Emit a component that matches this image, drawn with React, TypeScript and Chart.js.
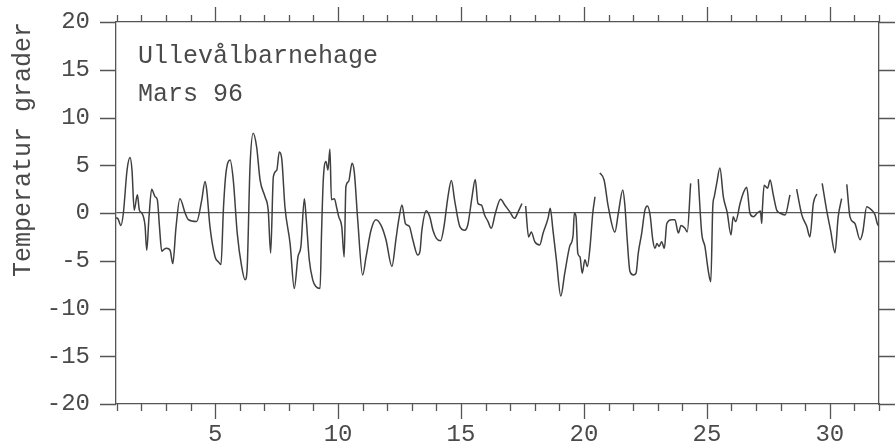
import { useEffect, useRef } from "react";
import { Chart, registerables } from "chart.js";

Chart.register(...registerables);

// ---- data ----
const days: number[] = [
  0.97, 1.05, 1.17, 1.27, 1.42, 1.54, 1.62, 1.71, 1.84, 1.92, 2.02, 2.15, 2.22, 2.31, 2.42, 2.56, 2.65, 2.74, 2.83, 2.92,
  3.03, 3.17, 3.28, 3.41, 3.57, 3.78, 3.91, 4.25, 4.46, 4.59, 4.66, 4.79, 5.0, 5.13, 5.24, 5.34, 5.44, 5.61, 5.74, 5.9,
  6.08, 6.22, 6.3, 6.42, 6.55, 6.69, 6.83, 7.03, 7.16, 7.26, 7.37, 7.51, 7.61, 7.71, 7.84, 8.05, 8.22, 8.37, 8.49, 8.63,
  8.7, 8.83, 8.97, 9.1, 9.27, 9.33, 9.4, 9.51, 9.59, 9.67, 9.73, 9.85, 9.95, 10.03, 10.15, 10.25, 10.32, 10.43, 10.57, 10.66,
  10.8, 11.0, 11.14, 11.34, 11.54, 11.75, 11.95, 12.19, 12.36, 12.47, 12.6, 12.74, 12.9, 13.04, 13.24, 13.33, 13.41, 13.59, 13.73, 13.86,
  14.0, 14.17, 14.31, 14.47, 14.61, 14.74, 14.95, 15.15, 15.28, 15.45, 15.58, 15.69, 15.83, 15.96, 16.1, 16.23, 16.4, 16.61, 16.78, 16.98,
  17.18, 17.32, 17.48, 17.55, 17.63, 17.75, 17.86, 18.0, 18.2, 18.34, 18.54, 18.63, 18.74, 18.88, 19.06, 19.22, 19.42, 19.56, 19.61, 19.68,
  19.75, 19.84, 19.93, 20.04, 20.14, 20.25, 20.36, 20.45, 20.55, 20.65, 20.82, 20.99, 21.26, 21.4, 21.58, 21.67, 21.76, 21.87, 22.01, 22.12,
  22.21, 22.35, 22.48, 22.58, 22.69, 22.8, 22.89, 22.97, 23.06, 23.16, 23.27, 23.37, 23.57, 23.7, 23.84, 23.95, 24.11, 24.2, 24.34, 24.5,
  24.65, 24.79, 24.92, 25.06, 25.16, 25.24, 25.3, 25.4, 25.53, 25.67, 25.83, 25.98, 26.07, 26.17, 26.35, 26.48, 26.62, 26.75, 26.89, 27.05,
  27.18, 27.23, 27.26, 27.33, 27.47, 27.57, 27.7, 27.84, 27.97, 28.18, 28.38, 28.5, 28.65, 28.86, 29.06, 29.19, 29.33, 29.47, 29.58, 29.69,
  29.87, 30.03, 30.21, 30.34, 30.48, 30.58, 30.69, 30.82, 31.02, 31.23, 31.34, 31.5, 31.7, 31.84, 31.93, 32.0,
];

const temps: (number | null)[] = [
  -0.5, -0.6, -1.3, 0, 4.5, 5.8, 4.5, 0.3, 1.9, 0.3, 0, -1.3, -3.9, -0.5, 2.5, 1.7, 1.4, -1.5, -4.0, -3.8,
  -3.7, -3.9, -5.3, -1.5, 1.5, 0, -0.7, -0.9, 1.4, 3.3, 2.4, -1.4, -4.6, -5.1, -5.4, 0.5, 4.15, 5.55, 3.45, -2.1,
  -5.6, -7.0, -6.0, 4.85, 8.35, 6.9, 3.45, 1.7, 0.3, -4.2, 3.8, 4.5, 6.4, 5.7, 0.66, -3.2, -7.9, -4.6, -3.5, 1.5,
  -0.4, -4.9, -7.0, -7.7, -7.9, -2.0, 3.45, 5.4, 4.5, 6.7, 1.4, 1.5, 0.5, -0.4, -1.4, -4.6, 2.75, 3.3, 5.2, 4.3,
  -0.7, -6.5, -4.6, -1.8, -0.7, -1.3, -2.8, -5.6, -2.65, -0.7, 0.84, -1.1, -1.4, -2.8, -4.4, -4.05, -1.8, 0.24, -0.4, -1.8,
  -2.65, -2.9, -1.4, 1.7, 3.4, 1.36, -1.4, -1.8, -1.2, 1.7, 3.5, 1.0, 0.84, -0.2, -0.9, -1.6, 0, 1.43, 0.84, 0.14,
  -0.56, 0.1, 1.0, null, 0.73, -2.5, -2.0, -3.0, -3.35, -2.1, -0.56, 0.5, -1.8, -4.9, -8.7, -6.3, -3.5, -2.3, 0, -0.4,
  -4.2, -4.6, -6.3, -4.9, -5.6, -3.5, 0, 1.7, null, 4.2, 3.45, 0.66, -2.0, 0, 2.4, 0.66, -2.8, -6.1, -6.5, -6.3,
  -4.2, -2.1, 0.3, 0.73, -0.2, -2.8, -3.7, -3.2, -3.5, -3.0, -3.7, -1.1, -0.7, -0.7, -2.1, -1.3, -1.6, -2.0, 3.1, null,
  3.55, -2.1, -3.5, -6.1, -7.2, 0.66, 1.7, 3.1, 4.7, 1.7, 0, -2.3, -0.4, -0.9, 1.0, 2.1, 2.7, 0, -0.4, 0,
  0.2, -1.1, 0.5, 2.9, 2.6, 3.45, 1.9, 0.3, 0, -0.2, 1.9, null, 2.5, -0.2, -1.4, -2.5, 1.0, 2.0, null, 3.1,
  0.3, -1.8, -4.15, -0.4, 1.5, null, 3.0, -0.4, -1.1, -2.8, -2.0, 0.66, 0.3, -0.2, -1.1, -1.4,
];

const xTickLabels: number[] = [5, 10, 15, 20, 25, 30];
const yTickValues: number[] = [-20, -15, -10, -5, 0, 5, 10, 15, 20];
const stationLabel = "Ullevålbarnehage";
const periodLabel = "Mars 96";
const yAxisTitle = "Temperatur grader";

const X_MIN = 0.97;
const X_MAX = 32;

const LINE = "#3f3f3f";
const AXIS = "#555555";
const TEXT = "#4a4a4a";
const FONT = '"Liberation Mono", "Courier New", monospace';

const fixBox = (h?: number, w?: number) => (s: any) => {
  if (h !== undefined) s.height = h;
  if (w !== undefined) s.width = w;
  s.paddingTop = 0;
  s.paddingBottom = 0;
  s.paddingLeft = 0;
  s.paddingRight = 0;
};

const frameTicks = {
  id: "frameTicks",
  afterDraw(chart: any) {
    const { ctx, chartArea: a, scales } = chart;
    const xs = scales.x;
    const ys = scales.y;
    ctx.save();
    ctx.strokeStyle = AXIS;
    ctx.lineWidth = 1.3;
    ctx.beginPath();
    for (let d = Math.ceil(X_MIN); d <= X_MAX; d++) {
      const px = Math.round(xs.getPixelForValue(d)) + 0.5;
      const len = d % 5 === 0 ? 15 : 7;
      ctx.moveTo(px, a.bottom);
      ctx.lineTo(px, a.bottom + len);
      ctx.moveTo(px, a.top);
      ctx.lineTo(px, a.top - len);
    }
    for (const v of yTickValues) {
      const py = Math.round(ys.getPixelForValue(v)) + 0.5;
      ctx.moveTo(a.left - 16, py);
      ctx.lineTo(a.left, py);
      ctx.moveTo(a.right, py);
      ctx.lineTo(a.right + 16, py);
    }
    ctx.stroke();

    ctx.fillStyle = TEXT;
    ctx.font = `25px ${FONT}`;
    ctx.textAlign = "left";
    ctx.textBaseline = "alphabetic";
    ctx.fillText(stationLabel, a.left + 22, a.top + 41);
    ctx.fillText(periodLabel, a.left + 22, a.top + 79);
    ctx.restore();
  },
};

export default function App() {
  const ref = useRef<HTMLCanvasElement | null>(null);

  useEffect(() => {
    document.body.style.margin = "0";
    const canvas = ref.current;
    if (!canvas) return;
    const points = days.map((d, i) => ({ x: d, y: temps[i] }));
    const chart = new Chart(canvas, {
      type: "line",
      data: {
        datasets: [
          {
            data: points as any,
            borderColor: LINE,
            borderWidth: 1.5,
            pointRadius: 0,
            cubicInterpolationMode: "monotone",
            spanGaps: false,
            fill: false,
          },
        ],
      },
      options: {
        animation: false,
        responsive: true,
        maintainAspectRatio: false,
        layout: { padding: 0, autoPadding: false },
        plugins: {
          legend: { display: false },
          tooltip: { enabled: false },
          title: { display: false },
        },
        scales: {
          x: {
            type: "linear",
            position: "bottom",
            min: X_MIN,
            max: X_MAX,
            afterBuildTicks: (s: any) => {
              s.ticks = xTickLabels.map((v) => ({ value: v }));
            },
            afterFit: fixBox(44),
            grid: { display: false, drawTicks: false },
            border: { display: true, color: AXIS, width: 1.3 },
            ticks: {
              color: TEXT,
              font: { family: FONT, size: 24 },
              padding: 16,
              maxRotation: 0,
              autoSkip: false,
            },
          },
          x2: {
            type: "linear",
            position: "top",
            min: X_MIN,
            max: X_MAX,
            afterFit: fixBox(22),
            grid: { display: false, drawTicks: false },
            border: { display: true, color: AXIS, width: 1.3 },
            ticks: { display: false },
          },
          y: {
            type: "linear",
            position: "left",
            min: -20,
            max: 20,
            afterBuildTicks: (s: any) => {
              s.ticks = yTickValues.map((v) => ({ value: v }));
            },
            afterFit: fixBox(undefined, 116),
            grid: {
              display: true,
              drawTicks: false,
              color: (c: any) => (c.tick && c.tick.value === 0 ? AXIS : "rgba(0,0,0,0)"),
              lineWidth: 1.3,
            },
            border: { display: true, color: AXIS, width: 1.3 },
            ticks: {
              color: TEXT,
              font: { family: FONT, size: 24 },
              padding: 26,
            },
            title: {
              display: true,
              text: yAxisTitle,
              color: TEXT,
              align: "end",
              font: { family: FONT, size: 25 },
              padding: { top: 8, bottom: 0 },
            },
          },
          y2: {
            type: "linear",
            position: "right",
            min: -20,
            max: 20,
            afterFit: fixBox(undefined, 17),
            grid: { display: false, drawTicks: false },
            border: { display: true, color: AXIS, width: 1.3 },
            ticks: { display: false },
          },
        },
      } as any,
      plugins: [frameTicks],
    });
    return () => chart.destroy();
  }, []);

  return (
    <div style={{ position: "relative", width: 896, height: 448 }}>
      <canvas ref={ref} />
    </div>
  );
}
